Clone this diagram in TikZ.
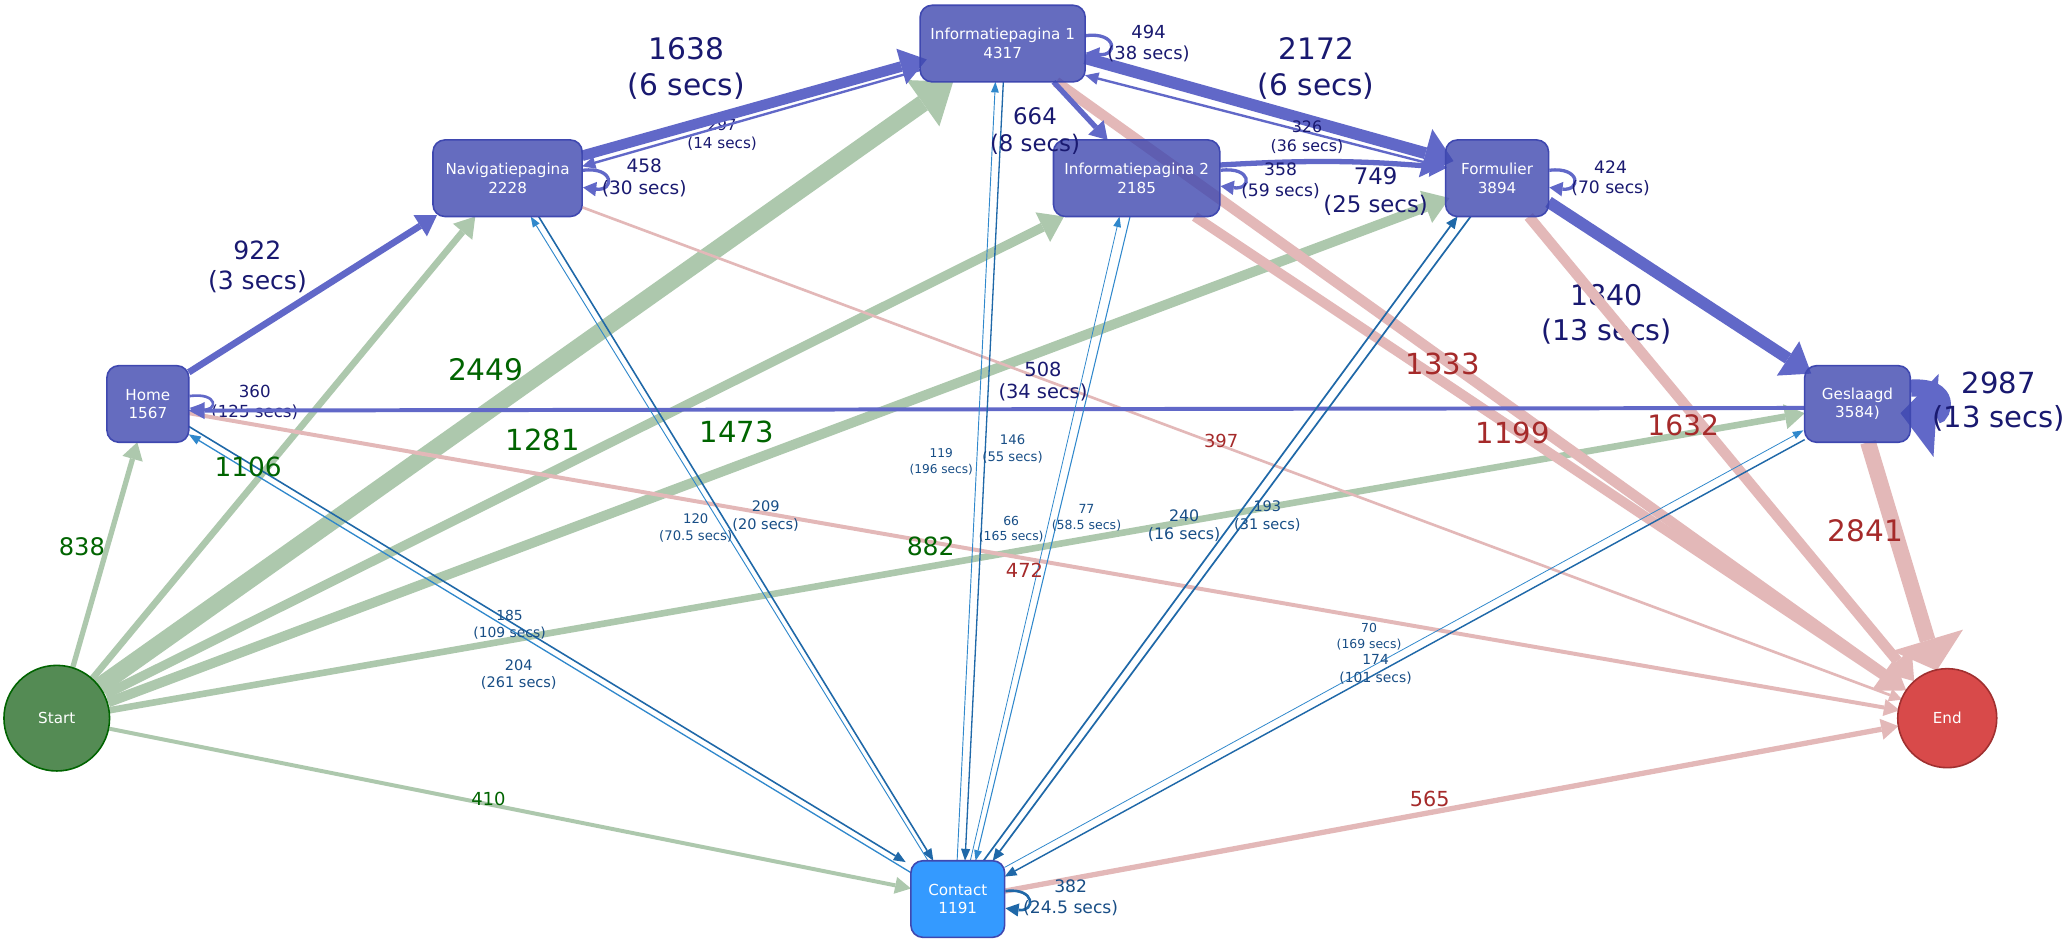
\documentclass[tikz,border=0pt]{standalone}
\usepackage{fontspec}
\setmainfont{DejaVu Sans}
\usetikzlibrary{arrows.meta}
\pgfdeclarelayer{back}\pgfdeclarelayer{labels}\pgfdeclarelayer{edges}
\pgfsetlayers{back,labels,edges,main}
\definecolor{nodeB}{HTML}{3F48B0}
\definecolor{edgeB}{HTML}{6168C8}
\definecolor{edgeG}{HTML}{ADC8AD}
\definecolor{edgeR}{HTML}{E3B8B8}
\definecolor{edgeCd}{HTML}{1F68A8}
\definecolor{edgeCl}{HTML}{3088CC}
\definecolor{labB}{HTML}{191970}
\definecolor{labG}{HTML}{006400}
\definecolor{labR}{HTML}{A52A2A}
\definecolor{labC}{HTML}{184E86}
\definecolor{conF}{HTML}{1E90FF}
\definecolor{startF}{HTML}{548B54}
\definecolor{endF}{HTML}{D84A4A}
\definecolor{endD}{HTML}{A03030}
\begin{document}
\begin{tikzpicture}[x=1pt,y=-1pt,
  page/.style={draw=nodeB, line width=1.2pt, fill=nodeB, fill opacity=0.8, draw opacity=1, text opacity=1, text=white,
    rounded corners=9pt, inner sep=0pt, minimum height=58pt, align=center, font=\fontsize{11.5}{14}\selectfont},
  term/.style={circle, line width=1.2pt, inner sep=0pt, text=white, font=\fontsize{11.5}{14}\selectfont},
  E/.style n args={4}{draw=#1, line width=#2pt, -{Triangle[length=#3pt, width=#4pt, line width=0pt]}},
  lab/.style n args={3}{text=#1, font=\fontsize{#2}{#3}\selectfont, align=center, inner sep=0pt}
]
\begin{pgfonlayer}{back}
\fill[white] (0,0) rectangle (1568,715);
\end{pgfonlayer}
\useasboundingbox (0,0) rectangle (1568,715);

% nodes
\node[page, minimum width=125pt] (I1) at (759.5,33) {Informatiepagina 1\\4317};
\node[page, minimum width=113pt] (Nav) at (384.5,135) {Navigatiepagina\\2228};
\node[page, minimum width=126pt] (I2) at (861,135) {Informatiepagina 2\\2185};
\node[page, minimum width=78pt] (For) at (1134,135) {Formulier\\3894};
\node[page, minimum width=62pt] (Home) at (112,306) {Home\\1567};
\node[page, minimum width=80pt] (Ges) at (1407,306) {Geslaagd\\3584)};
\node[page, fill=conF, fill opacity=0.9, minimum width=71pt] (Con) at (725.5,681) {Contact\\1191};
\node[term, draw=labG, fill=startF, minimum size=80pt] (S) at (43,544) {Start};
\node[term, draw=endD, fill=endF, minimum size=75pt] (End) at (1475,544) {End};

% labels that lie under their edges
\begin{pgfonlayer}{labels}
\node[lab={labB}{11.5}{14}] (l297) at (547,102) {297\\(14 secs)};
\node[lab={labB}{21.6}{27}] (l1840) at (1217,238) {1840\\(13 secs)};
\node[lab={labB}{12.6}{15}] (l360) at (193,305) {360\\(125 secs)};
\end{pgfonlayer}

\begin{pgfonlayer}{edges}
% green: from Start
\draw[E={edgeG}{4}{13}{16}] ([shift={(12,-38)}]S.center) -- ([shift={(-8,29)}]Home.center);
\draw[E={edgeG}{5}{15}{19}] ([shift={(27,-30)}]S.center) -- ([shift={(-24.5,29)}]Nav.center);
\draw[E={edgeG}{13}{28}{43}] ([shift={(32,-24)}]S.center) -- ([shift={(-37.5,29)}]I1.center);
\draw[E={edgeG}{7}{18}{25}] ([shift={(37,-18)}]S.center) -- ([shift={(-55,29)}]I2.center);
\draw[E={edgeG}{7.5}{19}{26}] ([shift={(39,-12)}]S.center) -- ([shift={(-36,15)}]For.center);
\draw[E={edgeG}{5}{15}{19}] ([shift={(40,-6)}]S.center) -- ([shift={(-40,7)}]Ges.center);
\draw[E={edgeG}{3}{12}{13}] ([shift={(40,8)}]S.center) -- ([shift={(-35.5,-8)}]Con.center);
% red: to End
\draw[E={edgeR}{2}{10}{10}] ([shift={(56.5,22)}]Nav.center) -- ([shift={(-34,-14)}]End.center);
\draw[E={edgeR}{3}{12}{13}] ([shift={(31,7)}]Home.center) -- ([shift={(-36,-6)}]End.center);
\draw[E={edgeR}{8}{20}{28}] ([shift={(40.5,29)}]I1.center) -- ([shift={(-32,-22)}]End.center);
\draw[E={edgeR}{7.5}{19}{26}] ([shift={(44,29)}]I2.center) -- ([shift={(-31,-21)}]End.center);
\draw[E={edgeR}{8}{20}{28}] ([shift={(24,29)}]For.center) -- ([shift={(-25,-28)}]End.center);
\draw[E={edgeR}{12}{24}{56}] ([shift={(8,29)}]Ges.center) -- ([shift={(-8,-36)}]End.center);
\draw[E={edgeR}{4}{13}{16}] ([shift={(35.5,-6)}]Con.center) -- ([shift={(-37,6)}]End.center);
% blue: between pages
\draw[E={edgeB}{5}{15}{19}] ([shift={(31,-24)}]Home.center) -- ([shift={(-53.5,28)}]Nav.center);
\draw[E={edgeB}{8}{20}{28}] ([shift={(56.5,-17)}]Nav.center) -- ([shift={(-57.5,12)}]I1.center);
\draw[E={edgeB}{1.8}{10}{9.5}] ([shift={(-62.5,20)}]I1.center) -- ([shift={(56.5,-9)}]Nav.center);
\draw[E={edgeB}{4}{13}{16}] ([shift={(38.5,29)}]I1.center) -- ([shift={(-22,-29)}]I2.center);
\draw[E={edgeB}{9}{22}{38}] ([shift={(62.5,11)}]I1.center) -- ([shift={(-33,-13)}]For.center);
\draw[E={edgeB}{1.8}{10}{9.5}] ([shift={(-39,-8)}]For.center) -- ([shift={(62.5,24)}]I1.center);
\draw[E={edgeB}{4}{13}{16}] ([shift={(63,-10)}]I2.center) to[bend left=4] ([shift={(-38,-8)}]For.center);
\draw[E={edgeB}{9}{21}{31}] ([shift={(39,18)}]For.center) -- ([shift={(-35,-23)}]Ges.center);
\draw[E={edgeB}{3}{12}{13}] ([shift={(-40,3)}]Ges.center) -- ([shift={(31,5)}]Home.center);
% self loops
\draw[E={edgeB}{2}{9}{9}] ([shift={(0,-6)}]Home.east) .. controls +(22,-3) and +(22,3) .. ([shift={(0,3)}]Home.east);
\draw[E={edgeB}{2.5}{10}{11}] ([shift={(0,-6)}]Nav.east) .. controls +(24,-3) and +(24,3) .. ([shift={(0,7)}]Nav.east);
\draw[E={edgeB}{2.5}{10}{11}] ([shift={(0,-6)}]I1.east) .. controls +(24,-3) and +(24,3) .. ([shift={(0,7)}]I1.east);
\draw[E={edgeB}{2.5}{10}{11}] ([shift={(0,-6)}]I2.east) .. controls +(24,-3) and +(24,3) .. ([shift={(0,6)}]I2.east);
\draw[E={edgeB}{2.5}{10}{11}] ([shift={(0,-6)}]For.east) .. controls +(24,-3) and +(24,3) .. ([shift={(0,7)}]For.east);
\draw[E={edgeCd}{2}{10}{10}] ([shift={(0,-6)}]Con.east) .. controls +(23,-3) and +(23,3) .. ([shift={(0,7)}]Con.east);
\draw[E={edgeB}{13}{27}{63}] ([shift={(0,-12)}]Ges.east) .. controls +(32,-2) and +(32,2) .. ([shift={(-8,7)}]Ges.east);
% contact edges
\draw[E={edgeCd}{1.2}{9}{7.5}] ([shift={(31,17)}]Home.center) -- ([shift={(-39.5,-28)}]Con.center);
\draw[E={edgeCl}{1}{9}{7}] ([shift={(-35.5,-20)}]Con.center) -- ([shift={(31,23)}]Home.center);
\draw[E={edgeCd}{1.2}{9}{7.5}] ([shift={(23.5,29)}]Nav.center) -- ([shift={(-18.5,-29)}]Con.center);
\draw[E={edgeCl}{0.7}{8}{6}] ([shift={(-22.5,-29)}]Con.center) -- ([shift={(17.5,29)}]Nav.center);
\draw[E={edgeCd}{1}{9}{7}] ([shift={(0.5,29)}]I1.center) -- ([shift={(5.5,-29)}]Con.center);
\draw[E={edgeCl}{0.7}{8}{6}] ([shift={(-0.5,-29)}]Con.center) -- ([shift={(-5.5,29)}]I1.center);
\draw[E={edgeCl}{0.8}{8}{6}] ([shift={(-5,29)}]I2.center) -- ([shift={(13.5,-29)}]Con.center);
\draw[E={edgeCl}{0.6}{8}{6}] ([shift={(9.5,-29)}]Con.center) -- ([shift={(-13,29)}]I2.center);
\draw[E={edgeCd}{1.3}{9}{8}] ([shift={(-20,29)}]For.center) -- ([shift={(26.5,-29)}]Con.center);
\draw[E={edgeCd}{1.3}{9}{8}] ([shift={(19.5,-29)}]Con.center) -- ([shift={(-30,29)}]For.center);
\draw[E={edgeCd}{1.1}{9}{7.5}] ([shift={(-40,27)}]Ges.center) -- ([shift={(35.5,-17)}]Con.center);
\draw[E={edgeCl}{0.6}{8}{6}] ([shift={(35.5,-24)}]Con.center) -- ([shift={(-41,20)}]Ges.center);
\end{pgfonlayer}

% labels drawn over the edges
\node[lab={labB}{19}{22.5}] (l922) at (195,202) {922\\(3 secs)};
\node[lab={labB}{22.5}{27}] (l1638) at (520,52) {1638\\(6 secs)};
\node[lab={labB}{14}{16.5}] (l458) at (488,135) {458\\(30 secs)};
\node[lab={labB}{13.6}{16.5}] (l494) at (870,33) {494\\(38 secs)};
\node[lab={labB}{17.3}{20.5}] (l664) at (784,99) {664\\(8 secs)};
\node[lab={labB}{22.4}{27}] (l2172) at (997,52) {2172\\(6 secs)};
\node[lab={labB}{12}{14.5}] (l326) at (990,104) {326\\(36 secs)};
\node[lab={labB}{13}{15.5}] (l358) at (970,137) {358\\(59 secs)};
\node[lab={labB}{17.3}{21}] (l749) at (1042,145) {749\\(25 secs)};
\node[lab={labB}{13}{15.5}] (l424) at (1220,135) {424\\(70 secs)};
\node[lab={labB}{22}{26}] (l2987) at (1514,304) {2987\\(13 secs)};
\node[lab={labB}{14.7}{17}] (l508) at (790,289) {508\\(34 secs)};
\node[lab={labG}{18.3}{22}] (l838) at (62,414) {838};
\node[lab={labG}{20}{24}] (l1106) at (188,354) {1106};
\node[lab={labG}{22.5}{27}] (l2449) at (368,280) {2449};
\node[lab={labG}{22}{26}] (l1281) at (411,333) {1281};
\node[lab={labG}{22}{26}] (l1473) at (558,327) {1473};
\node[lab={labG}{19}{23}] (l882) at (705,414) {882};
\node[lab={labG}{13.6}{16}] (l410) at (370,605) {410};
\node[lab={labR}{13.6}{16}] (l397) at (925,334) {397};
\node[lab={labR}{14.7}{17}] (l472) at (776,432) {472};
\node[lab={labR}{22}{26}] (l1333) at (1093,276) {1333};
\node[lab={labR}{22}{26}] (l1199) at (1146,328) {1199};
\node[lab={labR}{21.3}{26}] (l1632) at (1275,322) {1632};
\node[lab={labR}{22.4}{27}] (l2841) at (1413,402) {2841};
\node[lab={labR}{15.7}{19}] (l565) at (1083,605) {565};
\node[lab={labC}{10.5}{13}] (l185) at (386,473) {185\\(109 secs)};
\node[lab={labC}{11}{13.5}] (l204) at (393,511) {204\\(261 secs)};
\node[lab={labC}{11}{13.5}] (l209) at (580,391) {209\\(20 secs)};
\node[lab={labC}{10}{12.5}] (l120) at (527,400) {120\\(70.5 secs)};
\node[lab={labC}{10}{12.5}] (l146) at (767,340) {146\\(55 secs)};
\node[lab={labC}{9.2}{12}] (l119) at (713,350) {119\\(196 secs)};
\node[lab={labC}{9.5}{12}] (l77) at (823,392) {77\\(58.5 secs)};
\node[lab={labC}{9.4}{11.5}] (l66) at (766,401) {66\\(165 secs)};
\node[lab={labC}{12}{14}] (l240) at (897,398) {240\\(16 secs)};
\node[lab={labC}{11}{13.5}] (l193) at (960,391) {193\\(31 secs)};
\node[lab={labC}{9.4}{12}] (l70) at (1037,482) {70\\(169 secs)};
\node[lab={labC}{10.5}{13}] (l174) at (1042,507) {174\\(101 secs)};
\node[lab={labC}{13}{16}] (l382) at (811,680) {382\\(24.5 secs)};
\end{tikzpicture}
\end{document}
